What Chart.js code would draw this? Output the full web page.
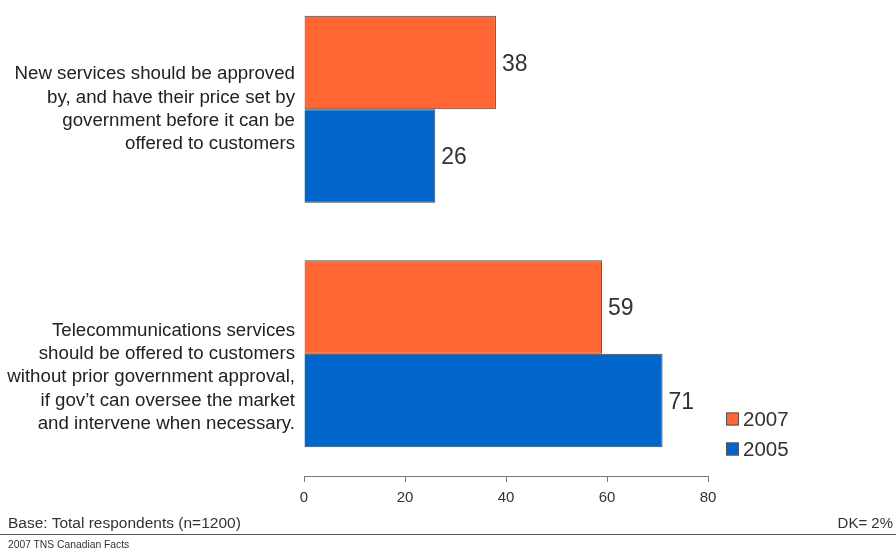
<!DOCTYPE html>
<html>
<head>
<meta charset="utf-8">
<script src="https://cdn.jsdelivr.net/npm/chart.js@4.4.1/dist/chart.umd.min.js"></script>
<style>
  html, body { margin: 0; padding: 0; background: #fff; }
  #page { position: relative; width: 896px; height: 550px; overflow: hidden; font-family: "Liberation Sans", Arial, sans-serif; }
  #chartBox { position: absolute; left: 0; top: -13px; width: 896px; height: 563px; }
  #base { position: absolute; left: 8px; top: 514px; font-size: 15.5px; color: #333; }
  #dk { position: absolute; right: 3px; top: 514px; font-size: 15px; color: #333; }
  #rule { position: absolute; left: 0; top: 534px; width: 896px; height: 0; border-top: 1.5px solid #555; }
  #credit { position: absolute; left: 8px; top: 539px; font-size: 10.3px; color: #333; }
</style>
</head>
<body>
<div id="page">
  <div id="chartBox"><canvas id="chartOne"></canvas></div>
  <div id="base">Base: Total respondents (n=1200)</div>
  <div id="dk">DK= 2%</div>
  <div id="rule"></div>
  <div id="credit">2007 TNS Canadian Facts</div>
</div>
<script>
const categories = [
    ["New services should be approved", "by, and have their price set by", "government before it can be", "offered to customers"],
    ["", "", "Telecommunications services", "should be offered to customers", "without prior government approval,", "if gov\u2019t can oversee the market", "and intervene when necessary."]
];
const values2007 = [38, 59];
const values2005 = [26, 71];
const xTicks = [0, 20, 40, 60, 80];

// value next to each bar
const barValues = {
    id: 'barValues',
    afterDatasetsDraw(chart) {
        const ctx = chart.ctx;
        ctx.save();
        ctx.font = '23px "Liberation Sans", Arial, sans-serif';
        ctx.fillStyle = '#333';
        ctx.textAlign = 'left';
        ctx.textBaseline = 'middle';
        chart.data.datasets.forEach((ds, i) => {
            chart.getDatasetMeta(i).data.forEach((bar, j) => {
                ctx.fillText(ds.data[j], bar.x + 6, bar.y + 2);
            });
        });
        ctx.restore();
    }
};

// small square legend at lower right of the plot
const boxLegend = {
    id: 'boxLegend',
    afterDraw(chart) {
        const ctx = chart.ctx;
        const area = chart.chartArea;
        ctx.save();
        ctx.font = '20.5px "Liberation Sans", Arial, sans-serif';
        ctx.textBaseline = 'middle';
        chart.data.datasets.forEach((ds, i) => {
            const y = area.bottom - 57 + i * 30;
            ctx.fillStyle = ds.backgroundColor;
            ctx.fillRect(area.right + 18, y - 6.5, 13, 13);
            ctx.strokeStyle = '#555';
            ctx.lineWidth = 1;
            ctx.strokeRect(area.right + 18.5, y - 6, 12, 12);
            ctx.fillStyle = '#333';
            ctx.fillText(ds.label, area.right + 35, y + 1);
        });
        ctx.restore();
    }
};

const chartOne = document.getElementById("chartOne");
let surveyChart = new Chart(chartOne, {
    type: 'bar',
    data: {
        labels: categories,
        datasets: [{
            label: '2007',
            data: values2007,
            backgroundColor: '#FF6633',
            borderColor: '#444',
            borderWidth: 1
        }, {
            label: '2005',
            data: values2005,
            backgroundColor: '#0066CC',
            borderColor: '#444',
            borderWidth: 1
        }]
    },
    options: {
        indexAxis: 'y',
        responsive: true,
        maintainAspectRatio: false,
        animation: false,
        layout: { padding: { left: 0, right: 188, top: 0, bottom: 0 } },
        datasets: { bar: { categoryPercentage: 0.765, barPercentage: 1 } },
        plugins: {
            legend: { display: false },
            tooltip: { enabled: false }
        },
        scales: {
            x: {
                min: 0,
                max: 80,
                afterBuildTicks(scale) { scale.ticks = xTicks.map(v => ({ value: v })); },
                afterFit(scale) { scale.height = 74; },
                grid: { drawOnChartArea: false, tickLength: 6, color: '#777' },
                border: { display: true, color: '#777', width: 1 },
                ticks: {
                    color: '#333',
                    padding: 7,
                    font: { family: '"Liberation Sans", Arial, sans-serif', size: 15 }
                }
            },
            y: {
                afterFit(scale) {
                    scale.width = 304;
                    // the tall labels may overhang the plot edges
                    scale.paddingTop = 0;
                    scale.paddingBottom = 0;
                },
                grid: { display: false, drawTicks: false },
                border: { display: false },
                ticks: {
                    color: '#222',
                    padding: 9,
                    font: { family: '"Liberation Sans", Arial, sans-serif', size: 18.7, lineHeight: 1.25 }
                }
            }
        }
    },
    plugins: [barValues, boxLegend]
});
</script>
</body>
</html>
